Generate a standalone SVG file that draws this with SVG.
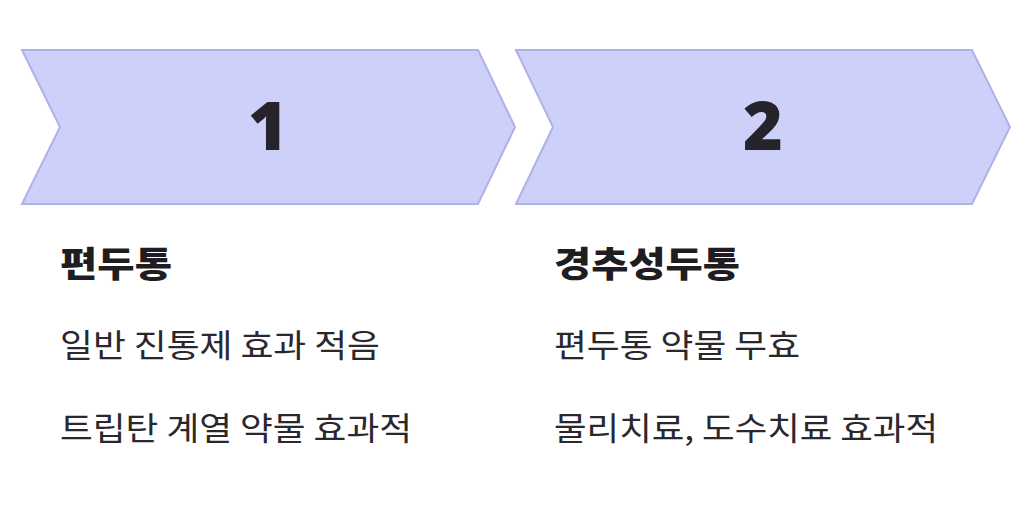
<svg xmlns="http://www.w3.org/2000/svg" width="1024" height="528" viewBox="0 0 1024 528">
<style>
.chev{fill:#cdd0f9;stroke:#aeb2e6;stroke-width:2}
.num{font-family:"Noto Sans","Noto Sans CJK KR",sans-serif;font-weight:900;font-size:68px;fill:#26232a;text-anchor:middle}
.h{font-family:"Noto Sans CJK KR",sans-serif;font-weight:900;font-size:35px;fill:#1f1d22}
.t{font-family:"Noto Sans CJK KR",sans-serif;font-size:32px;fill:#2a282d}
</style>
<rect width="1024" height="528" fill="#fff"/>
<g id="node1">
<polygon class="chev" points="22,50 478,50 515,127 478,204 22,204 60,127"/>
<text class="num" x="268" y="150">1</text>
<text class="h" x="60" y="277" textLength="112" lengthAdjust="spacingAndGlyphs">편두통</text>
<text class="t" x="60" y="357" textLength="320" lengthAdjust="spacingAndGlyphs">일반 진통제 효과 적음</text>
<text class="t" x="60" y="440" textLength="352" lengthAdjust="spacingAndGlyphs">트립탄 계열 약물 효과적</text>
</g>
<g id="node2">
<polygon class="chev" points="516,50 972,50 1010,127 972,204 516,204 553,127"/>
<text class="num" x="763" y="150">2</text>
<text class="h" x="554" y="277" textLength="186" lengthAdjust="spacingAndGlyphs">경추성두통</text>
<text class="t" x="554" y="357" textLength="246" lengthAdjust="spacingAndGlyphs">편두통 약물 무효</text>
<text class="t" x="554" y="440" textLength="384" lengthAdjust="spacingAndGlyphs">물리치료, 도수치료 효과적</text>
</g>
<g id="connectors"></g>
</svg>
